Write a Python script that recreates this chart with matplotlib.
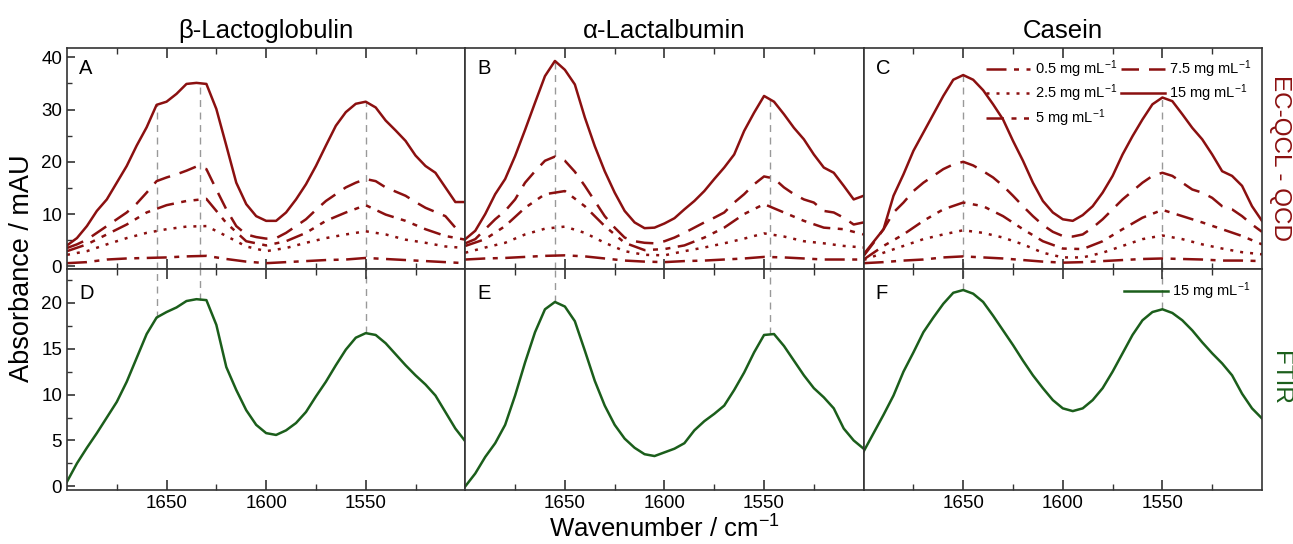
import numpy as np
import matplotlib
matplotlib.use("Agg")
import matplotlib.pyplot as plt
from matplotlib.ticker import MultipleLocator, FixedLocator

plt.rcParams['font.family'] = ['Liberation Sans', 'DejaVu Sans']
plt.rcParams['mathtext.fontset'] = 'custom'
plt.rcParams['mathtext.rm'] = 'Liberation Sans'
plt.rcParams['mathtext.it'] = 'Liberation Sans'

# wavenumber grids (cm-1), high to low
WN5 = np.arange(1700, 1499, -5)
WN10 = np.arange(1700, 1499, -10)

# ---- EC-QCL - QCD, beta-lactoglobulin (mAU) ----
A15 = [4.0, 5.4, 7.7, 10.6, 12.8, 16.0, 19.2, 23.1, 26.6, 30.9, 31.5, 33.0, 34.9, 35.1,
       34.9, 30.1, 23.1, 16.0, 11.9, 9.6, 8.7, 8.7, 10.3, 12.8, 15.7, 19.2, 23.1, 26.9,
       29.5, 31.1, 31.5, 30.4, 27.9, 26.0, 24.0, 21.2, 19.2, 17.9, 15.1, 12.3, 12.3]
A7_5 = [3.5, 4.2, 5.1, 6.4, 7.7, 9.0, 10.3, 12.0, 14.1, 16.3, 17.0, 17.6, 18.3, 19.1,
        18.6, 14.7, 10.9, 7.7, 6.1, 5.6, 5.3, 5.4, 6.4, 7.7, 9.0, 10.8, 12.5, 13.8,
        15.1, 16.0, 16.7, 16.3, 15.1, 14.3, 13.5, 12.3, 11.2, 10.4, 9.6, 7.4, 6.7]
A5 = [2.9, 4.2, 6.1, 8.0, 10.3, 11.7, 12.5, 12.9, 8.3, 4.8, 4.0, 4.8, 6.4, 8.7, 10.3,
      11.7, 9.9, 8.7, 7.1, 5.8, 5.1]
A2_5 = [2.2, 2.9, 4.2, 5.4, 6.4, 7.1, 7.6, 7.7, 5.8, 3.8, 2.9, 3.5, 4.5, 5.4, 6.1,
        6.7, 6.1, 5.1, 4.5, 3.8, 3.5]
A0_5 = [0.6, 0.8, 1.3, 1.5, 1.6, 1.7, 1.9, 2.0, 1.4, 0.9, 0.6, 0.8, 1.0, 1.2, 1.3,
        1.6, 1.4, 1.2, 1.0, 0.8, 0.6]

# ---- alpha-lactalbumin ----
B15 = [5.2, 6.8, 10.0, 13.8, 16.7, 21.1, 26.1, 31.3, 36.4, 39.3, 37.6, 34.8, 28.5, 23.0,
       18.2, 14.1, 10.6, 8.4, 7.3, 7.4, 8.2, 9.2, 10.9, 12.5, 14.4, 16.7, 18.9, 21.4,
       25.9, 29.4, 32.6, 31.5, 29.1, 26.5, 24.3, 21.4, 18.9, 17.9, 15.4, 12.8, 13.5]
B7_5 = [4.4, 5.2, 7.1, 9.0, 10.6, 12.8, 16.0, 18.2, 20.2, 21.0, 20.2, 18.1, 15.4, 12.5,
        9.6, 7.4, 5.5, 4.8, 4.5, 4.4, 4.8, 5.5, 6.4, 7.4, 8.4, 9.3, 10.3, 12.2, 13.8,
        15.7, 17.2, 16.8, 15.1, 13.8, 12.8, 12.2, 10.6, 10.3, 9.3, 8.0, 8.4]
B5 = [3.9, 5.2, 7.7, 11.2, 13.8, 14.4, 11.5, 7.7, 4.5, 3.1, 3.3, 4.0, 5.5, 7.4, 10.0,
      11.9, 10.3, 8.7, 7.4, 7.1, 6.1]
B2_5 = [2.6, 3.6, 4.5, 6.1, 7.2, 7.6, 6.4, 4.5, 2.9, 2.2, 2.1, 2.9, 3.6, 4.4, 5.3,
        6.3, 5.7, 4.8, 4.4, 3.9, 3.6]
B0_5 = [1.3, 1.5, 1.6, 1.8, 2.0, 2.1, 1.9, 1.5, 1.1, 0.9, 0.8, 1.0, 1.1, 1.3, 1.5,
        1.8, 1.7, 1.5, 1.3, 1.3, 1.3]

# ---- casein ----
C15 = [2.3, 4.7, 7.1, 13.5, 17.6, 22.1, 25.6, 29.1, 32.6, 35.7, 36.6, 35.7, 33.7, 31.0,
       28.1, 24.0, 20.2, 16.0, 12.5, 10.3, 9.0, 8.7, 9.8, 11.5, 14.1, 17.3, 21.4, 24.9,
       28.1, 31.0, 32.3, 31.6, 29.1, 26.5, 24.3, 21.4, 18.2, 17.3, 15.4, 11.5, 8.7]
C7_5 = [2.0, 4.5, 7.1, 10.3, 12.2, 14.4, 16.0, 17.3, 18.6, 19.5, 20.0, 19.3, 18.2, 17.0,
        15.4, 13.5, 11.5, 9.6, 7.9, 6.6, 5.8, 5.7, 6.1, 7.4, 9.0, 10.9, 12.8, 14.4,
        16.0, 17.3, 17.9, 17.3, 16.0, 14.7, 14.1, 13.1, 11.5, 10.9, 9.6, 8.0, 6.6]
C5 = [1.3, 3.9, 6.1, 8.7, 10.9, 12.2, 11.5, 9.6, 7.1, 4.8, 3.4, 3.3, 4.8, 7.1, 9.3,
      10.8, 9.6, 8.4, 7.1, 5.8, 4.2]
C2_5 = [1.2, 2.6, 3.9, 5.2, 6.1, 6.9, 6.4, 5.5, 4.2, 2.6, 1.7, 1.7, 2.6, 3.9, 5.2,
        5.9, 5.2, 4.2, 3.4, 2.7, 2.3]
C0_5 = [0.6, 0.8, 1.1, 1.3, 1.7, 1.9, 1.7, 1.5, 1.2, 0.9, 0.7, 0.8, 1.0, 1.2, 1.4,
        1.5, 1.4, 1.3, 1.1, 1.1, 1.0]

# ---- FTIR, 15 mg mL-1 ----
D_FTIR = [0.5, 2.5, 4.2, 5.8, 7.5, 9.2, 11.4, 14.0, 16.6, 18.4, 19.0, 19.5, 20.2, 20.4,
          20.3, 17.6, 13.0, 10.5, 8.3, 6.7, 5.8, 5.6, 6.1, 6.9, 8.1, 9.8, 11.4, 13.2,
          14.9, 16.2, 16.7, 16.5, 15.6, 14.4, 13.2, 12.1, 11.1, 9.9, 8.1, 6.3, 4.9]
E_FTIR = [0.0, 1.4, 3.2, 4.7, 6.7, 9.9, 13.5, 16.8, 19.3, 20.1, 19.6, 18.0, 14.8, 11.5,
          8.8, 6.7, 5.2, 4.2, 3.5, 3.3, 3.7, 4.1, 4.7, 6.1, 7.1, 7.9, 8.8, 10.5, 12.4,
          14.6, 16.5, 16.6, 15.3, 13.7, 12.1, 10.7, 9.7, 8.5, 6.3, 5.0, 4.1]
F_FTIR = [3.8, 5.8, 7.8, 9.9, 12.5, 14.6, 16.8, 18.4, 19.9, 21.1, 21.4, 21.0, 20.1, 18.6,
          17.0, 15.4, 13.7, 12.1, 10.7, 9.4, 8.5, 8.2, 8.5, 9.4, 10.7, 12.5, 14.5, 16.5,
          18.1, 19.0, 19.3, 18.9, 18.1, 17.0, 15.7, 14.5, 13.4, 12.1, 10.1, 8.5, 7.4]

PROTEINS = ["\u03b2-Lactoglobulin", "\u03b1-Lactalbumin", "Casein"]
LETTERS_TOP = ["A", "B", "C"]
LETTERS_BOT = ["D", "E", "F"]
CONC_LABELS = ["0.5 mg mL$^{-1}$", "2.5 mg mL$^{-1}$", "5 mg mL$^{-1}$",
               "7.5 mg mL$^{-1}$", "15 mg mL$^{-1}$"]
QCL = [[A0_5, A2_5, A5, A7_5, A15],
       [B0_5, B2_5, B5, B7_5, B15],
       [C0_5, C2_5, C5, C7_5, C15]]
FTIR = [D_FTIR, E_FTIR, F_FTIR]
PEAKS = [[1655, 1633, 1550], [1655, 1547], [1650, 1550]]

RED = "#8b1010"
GREEN = "#1b5e1b"
STYLES = [(0, (8, 3, 2, 3)), (0, (1.2, 2.8)), (0, (7, 3, 2, 3, 2, 3)),
          (0, (7, 4)), "-"]

fig = plt.figure(figsize=(12.93, 5.44), dpi=100)
axes = fig.subplots(2, 3, sharex=True, gridspec_kw=dict(wspace=0, hspace=0))
fig.subplots_adjust(left=0.0518, right=0.976, top=0.912, bottom=0.0993)

for j in range(3):
    top, bot = axes[0, j], axes[1, j]
    for k, (vals, ls) in enumerate(zip(QCL[j], STYLES)):
        x = WN10 if len(vals) == len(WN10) else WN5
        top.plot(x, vals, color=RED, lw=1.8, ls=ls, label=CONC_LABELS[k],
                 solid_joinstyle="round")
    bot.plot(WN5, FTIR[j], color=GREEN, lw=1.8, label="15 mg mL$^{-1}$",
             solid_joinstyle="round")

    top.set_ylim(-0.5, 41.8)
    bot.set_ylim(-0.4, 23.7)
    top.set_xlim(1700, 1500)

    # peak guide lines
    for p in PEAKS[j]:
        yt = np.interp(p, WN5[::-1], QCL[j][4][::-1])
        yb = np.interp(p, WN5[::-1], FTIR[j][::-1])
        top.vlines(p, -0.5, yt, color="#999999", lw=1, ls=(0, (5, 4)), zorder=0)
        bot.vlines(p, yb, 23.7, color="#999999", lw=1, ls=(0, (5, 4)), zorder=0)

    top.set_title(PROTEINS[j], fontsize=18.5, pad=7)
    top.text(0.03, 0.95, LETTERS_TOP[j], transform=top.transAxes, fontsize=14.5,
             va="top", ha="left")
    bot.text(0.03, 0.93, LETTERS_BOT[j], transform=bot.transAxes, fontsize=14.5,
             va="top", ha="left")

    for ax in (top, bot):
        ax.xaxis.set_major_locator(FixedLocator([1650, 1600, 1550]))
        ax.xaxis.set_minor_locator(FixedLocator([1675, 1625, 1575, 1525]))
        ax.tick_params(axis="x", which="both", direction="in", top=True, bottom=True,
                       labelsize=13.5, colors="#333333", labelcolor="black")
        ax.tick_params(axis="x", which="major", length=7, width=1.2)
        ax.tick_params(axis="x", which="minor", length=4, width=1)
        for s in ax.spines.values():
            s.set_color("#333333")
            s.set_linewidth(1.2)
        if j == 0:
            ax.tick_params(axis="y", which="both", direction="in", labelsize=13.5,
                           colors="#333333", labelcolor="black")
            ax.tick_params(axis="y", which="major", length=6, width=1.2)
            ax.tick_params(axis="y", which="minor", length=3.5, width=1)
        else:
            ax.tick_params(axis="y", which="both", left=False, labelleft=False)
    top.tick_params(axis="x", labelbottom=False)

axes[0, 0].yaxis.set_major_locator(MultipleLocator(10))
axes[0, 0].yaxis.set_minor_locator(MultipleLocator(5))
axes[1, 0].yaxis.set_major_locator(MultipleLocator(5))
axes[1, 0].yaxis.set_minor_locator(MultipleLocator(2.5))

axes[0, 2].legend(loc="upper right", ncol=2, frameon=False, fontsize=10.5,
                  handlelength=3.0, columnspacing=0.3, labelspacing=0.2,
                  handletextpad=0.3, borderaxespad=0.3)
axes[1, 2].legend(loc="upper right", frameon=False, fontsize=10.5,
                  handlelength=3.0, handletextpad=0.3, borderaxespad=0.4)

fig.text(0.017, 0.507, "Absorbance / mAU", rotation=90, ha="center", va="center",
         fontsize=19.5)
fig.text(0.514, 0.027, "Wavenumber / cm$^{-1}$", ha="center", va="center",
         fontsize=18.5)
fig.text(0.990, 0.71, "EC-QCL - QCD", rotation=270, ha="center", va="center",
         fontsize=17.5, color=RED)
fig.text(0.990, 0.305, "FTIR", rotation=270, ha="center", va="center",
         fontsize=17.5, color=GREEN)

fig.savefig("out.png", dpi=100)
